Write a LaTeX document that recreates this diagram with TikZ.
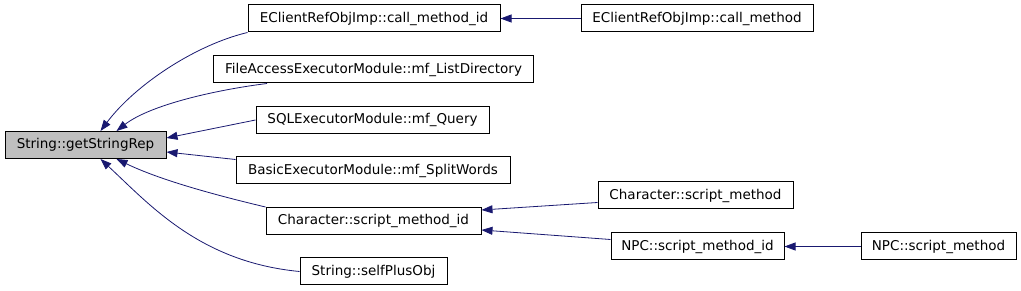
\documentclass[tikz,border=0pt]{standalone}
\usepackage{fontspec}
\setmainfont{DejaVu Sans}
\usepackage{tikz}
\usetikzlibrary{arrows.meta, calc}
\definecolor{edgeblue}{RGB}{25,25,112}
\definecolor{rootgray}{RGB}{191,191,191}
\tikzset{
    block/.style={rectangle, draw=black, fill=white, line width=1pt,
                  text centered, minimum height=27pt, inner sep=0pt,
                  font=\fontsize{13.5}{15}\selectfont},
    rootblock/.style={block, fill=rootgray},
    arrow/.style={-{Triangle[length=11pt, width=8pt]}, line width=0.8pt, color=edgeblue}
}

\begin{document}
\begin{tikzpicture}[x=1pt, y=-1pt]
    \useasboundingbox (0,0) rectangle (1021,291);
    \node[rootblock, minimum width=161pt] (strrep) at (85.5,145) {String::getStringRep};
    \node[block, minimum width=252pt] (cmid) at (374,18.5) {EClientRefObjImp::call\_method\_id};
    \node[block, minimum width=232pt] (cm) at (697,18.5) {EClientRefObjImp::call\_method};
    \node[block, minimum width=320pt] (flist) at (373.5,69.5) {FileAccessExecutorModule::mf\_ListDirectory};
    \node[block, minimum width=233pt] (sql) at (372.5,120) {SQLExecutorModule::mf\_Query};
    \node[block, minimum width=274pt] (split) at (373,170.5) {BasicExecutorModule::mf\_SplitWords};
    \node[block, minimum width=215pt] (chid) at (373.5,221) {Character::script\_method\_id};
    \node[block, minimum width=147pt] (selfplus) at (373.5,271.5) {String::selfPlusObj};
    \node[block, minimum width=195pt] (chsm) at (695.5,195.5) {Character::script\_method};
    \node[block, minimum width=173pt] (npcid) at (697.5,246.5) {NPC::script\_method\_id};
    \node[block, minimum width=155pt] (npcsm) at (938.5,246.5) {NPC::script\_method};

    \draw[arrow] (cmid.south west) .. controls (195,45) and (135,85) .. ([xshift=15pt]strrep.north);
    \draw[arrow] ([xshift=54pt]flist.south west) .. controls (215,90) and (150,105) .. ([xshift=31pt]strrep.north);
    \draw[arrow] (sql.west) -- ([yshift=7pt]strrep.east);
    \draw[arrow] ([yshift=-3pt]split.north west) -- ([yshift=-7pt]strrep.east);
    \draw[arrow] (chid.north west) .. controls (215,195) and (160,180) .. ([xshift=31pt]strrep.south);
    \draw[arrow] (selfplus.west) .. controls (200,262) and (150,205) .. ([xshift=15pt]strrep.south);
    \draw[arrow] (cm.west) -- (cmid.east);
    \draw[arrow] ([yshift=-21pt]chsm.north west) -- ([yshift=-3pt]chid.north east);
    \draw[arrow] ([yshift=-7pt]npcid.north west) -- ([yshift=5pt]chid.south east);
    \draw[arrow] (npcsm.west) -- (npcid.east);
\end{tikzpicture}
\end{document}
